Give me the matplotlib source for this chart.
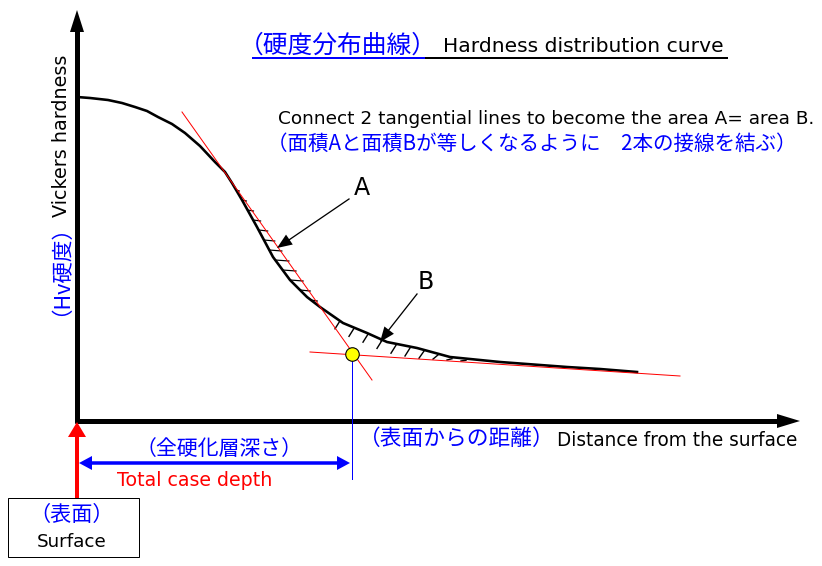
import numpy as np
import matplotlib.pyplot as plt

plt.rcParams['font.family'] = ['Noto Sans CJK JP', 'DejaVu Sans']

# hardness curve (pixel coords, y grows downward)
curve_x = [77, 90, 108, 122, 135, 147, 158, 172, 185, 200, 215, 225, 232, 242,
           257, 273, 290, 307, 320, 343, 367, 387, 417, 450, 500, 567, 600, 637]
curve_y = [97, 98, 100, 103, 107, 111, 117, 124, 133, 146, 162, 172, 183, 200,
           227, 257, 280, 297, 307, 323, 333, 342, 348, 357, 362, 367, 369, 372]

# the two tangent lines (end points)
tan1_x = [182, 372]
tan1_y = [112, 380]
tan2_x = [310, 680]
tan2_y = [352, 376]

cross_pt = (352, 354)     # where the tangents meet = total case depth
origin = (77, 421)
x_end = 800
y_end = 10

blue = '#0000ff'
red = '#ff0000'
px = 0.72   # 1 px in points at dpi 100
latin = 'DejaVu Sans'

fig = plt.figure(figsize=(8.22, 5.66), dpi=100)
ax = fig.add_axes([0, 0, 1, 1])
ax.set_xlim(0, 822)
ax.set_ylim(566, 0)
ax.axis('off')
renderer = fig.canvas.get_renderer()


def head(tip, d, length, hw, color):
    d = np.array(d, dtype=float)
    d /= np.hypot(*d)
    n = np.array([-d[1], d[0]])
    tip = np.array(tip, dtype=float)
    base = tip - d * length
    pts = np.array([tip, base + n * hw, base - n * hw])
    ax.fill(pts[:, 0], pts[:, 1], color=color, lw=0, zorder=5)


def label(lo, hi, pos, s, jp=False, vertical=False, **kw):
    # place text centred on [lo, hi] and scale it so its ink spans that range
    c = (lo + hi) / 2
    xy = (pos, c) if vertical else (c, pos)
    if not jp:
        kw.setdefault('family', latin)
    t = ax.text(*xy, s, ha='center', va='center', rotation=90 if vertical else 0,
                fontsize=12, **kw)
    bb = t.get_window_extent(renderer)
    k = (bb.height if vertical else bb.width) / 12
    blank = 1.15 * 100 / 72 if jp else 0.0   # empty halves of full-width brackets
    t.set_fontsize((hi - lo) / (k - blank))
    return t


# axes
ax.plot([origin[0], origin[0]], [origin[1] + 2, y_end + 20], color='black', lw=5 * px, solid_capstyle='butt')
head((origin[0], y_end), (0, -1), 22, 7, 'black')
ax.plot([origin[0] - 2, x_end - 20], [origin[1], origin[1]], color='black', lw=5 * px, solid_capstyle='butt')
head((x_end, origin[1]), (1, 0), 23, 7, 'black')

# curve
ax.plot(curve_x, curve_y, color='black', lw=2.6 * px, solid_joinstyle='round', zorder=3)

# tangents
ax.plot(tan1_x, tan1_y, color=red, lw=1 * px, zorder=4)
ax.plot(tan2_x, tan2_y, color=red, lw=1 * px, zorder=4)

s1 = (tan1_y[1] - tan1_y[0]) / (tan1_x[1] - tan1_x[0])
s2 = (tan2_y[1] - tan2_y[0]) / (tan2_x[1] - tan2_x[0])

# hatching of area A (between curve and tangent 1)
for y in np.arange(190, 305, 10):
    xc = np.interp(y, curve_y, curve_x)
    xl = tan1_x[0] + (y - tan1_y[0]) / s1
    ax.plot([xc, xl + 2], [y, y + 1], color='black', lw=1.2 * px, zorder=3)

# hatching of area B (between curve and tangent 2)
for x in np.arange(337, 470, 14):
    yc = np.interp(x, curve_x, curve_y)
    yl = min(tan2_y[0] + (x - tan2_x[0]) * s2, tan1_y[0] + (x - tan1_x[0]) * s1)
    ybot = min(yc + 10, yl - 1)
    ax.plot([x + 3, x - 2], [yc + 2, ybot], color='black', lw=1.4 * px, zorder=3)

# depth marker
ax.plot([cross_pt[0], cross_pt[0]], [cross_pt[1], 479], color=blue, lw=1 * px, zorder=4)
ax.scatter([cross_pt[0]], [cross_pt[1]], s=95, color='#ffff00', edgecolors='black', linewidths=0.8, zorder=6)

# A / B pointers
ax.plot([349, 283], [199, 244], color='black', lw=1.3 * px)
head((277, 248), (277 - 349, 248 - 199), 15, 6, 'black')
ax.plot([417, 384], [294, 336], color='black', lw=1.3 * px)
head((380, 342), (380 - 417, 342 - 294), 15, 6, 'black')
ax.text(362, 188, 'A', fontsize=17, family=latin, ha='center', va='center')
ax.text(426, 282, 'B', fontsize=17, family=latin, ha='center', va='center')

# title
label(253, 422, 46, '（硬度分布曲線）', jp=True, color=blue)
label(444, 723, 47, 'Hardness distribution curve')
ax.plot([253, 426], [58, 58], color=blue, lw=2 * px)
ax.plot([426, 727], [58, 58], color='black', lw=2 * px)

# instruction
label(279, 813, 119, 'Connect 2 tangential lines to become the area A= area B.')
label(279, 785, 144, '（面積Aと面積Bが等しくなるように　2本の接線を結ぶ）', jp=True, color=blue)

# y label
label(55, 217, 61, 'Vickers hardness', vertical=True)
ax.text(50, 260, '（Hv硬度）', color=blue, fontsize=15.5, rotation=90,
        rotation_mode='anchor', ha='center', va='center')

# x label
label(372, 542, 439, '（表面からの距離）', jp=True, color=blue)
label(557, 797, 440, 'Distance from the surface')

# surface arrow (red, upward)
ax.plot([origin[0], origin[0]], [498, 434], color=red, lw=4 * px, solid_capstyle='butt')
head((origin[0], origin[1] + 1), (0, -1), 15, 9, red)

# total case depth double arrow
ax.plot([88, 340], [463, 463], color=blue, lw=3.5 * px, solid_capstyle='butt')
head((79, 463), (-1, 0), 13, 7, blue)
head((350, 463), (1, 0), 13, 7, blue)
label(147, 290, 449, '（全硬化層深さ）', jp=True, color=blue)
label(117, 272, 481, 'Total case depth', color=red)

# surface box
ax.add_patch(plt.Rectangle((8, 498), 131, 59, fill=False, edgecolor='black', lw=1 * px))
label(42, 102, 515, '（表面）', jp=True, color=blue)
label(37, 107, 542, 'Surface')

fig.savefig('out.png', dpi=100)
